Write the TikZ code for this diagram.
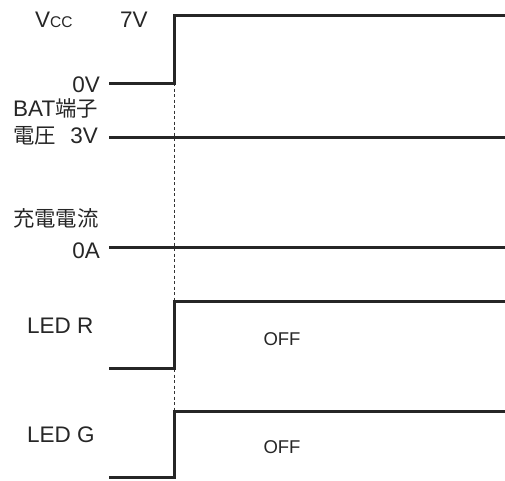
\documentclass[tikz,border=0pt]{standalone}
\usepackage{fontspec}
\setmainfont{Liberation Sans}
\newfontfamily\jpfont[Scale=0.95]{Noto Sans CJK JP}
\tikzset{
	wave/.style={line width=3pt, color=black!85},
	guide/.style={line width=1pt, dash pattern=on 3pt off 2.5pt, color=black!80},
	lbl/.style={inner sep=0pt, font=\fontsize{22.5}{26}\selectfont, color=black!85},
	small/.style={inner sep=0pt, font=\fontsize{18.5}{21}\selectfont, color=black!85}
}

\begin{document}
\begin{tikzpicture}[x=1pt, y=-1pt]
	\useasboundingbox (0,0) rectangle (505,480);
	\newcommand\riseat{174};
	\newcommand\wavestart{109};
	\newcommand\waveend{505};
	\coordinate (guidetop) at (\riseat,83);
	\coordinate (guidebot) at (\riseat,411);
	\draw[guide] (guidetop) -- (guidebot);
	\draw[wave] (\wavestart,83) -- (\riseat,83) -- (\riseat,15) -- (\waveend,15);
	\draw[wave] (\wavestart,137) -- (\waveend,137);
	\draw[wave] (\wavestart,247) -- (\waveend,247);
	\draw[wave] (\wavestart,368) -- (\riseat,368) -- (\riseat,301) -- (\waveend,301);
	\draw[wave] (\wavestart,477) -- (\riseat,477) -- (\riseat,411) -- (\waveend,411);
	\node[lbl, anchor=base west] (vcc) at (35,27) {V{\fontsize{15.5}{18}\selectfont CC}};
	\node[lbl, anchor=base west] (vhigh) at (120,27) {7V};
	\node[lbl, anchor=base east] (vlow) at (100,92) {0V};
	\node[lbl, anchor=base west] (bat) at (13,116) {BAT{\jpfont 端子}};
	\node[lbl, anchor=base west] (batv) at (13,143) {\jpfont 電圧};
	\node[lbl, anchor=base east] (batlvl) at (98,143) {3V};
	\node[lbl, anchor=base west] (chg) at (13,226) {\jpfont 充電電流};
	\node[lbl, anchor=base east] (chglvl) at (100,258) {0A};
	\node[lbl, anchor=base west] (ledr) at (27,333) {LED R};
	\node[small, anchor=base] (ledroff) at (282,345) {OFF};
	\node[lbl, anchor=base west] (ledg) at (27,442) {LED G};
	\node[small, anchor=base] (ledgoff) at (282,453) {OFF};
\end{tikzpicture}
\end{document}
